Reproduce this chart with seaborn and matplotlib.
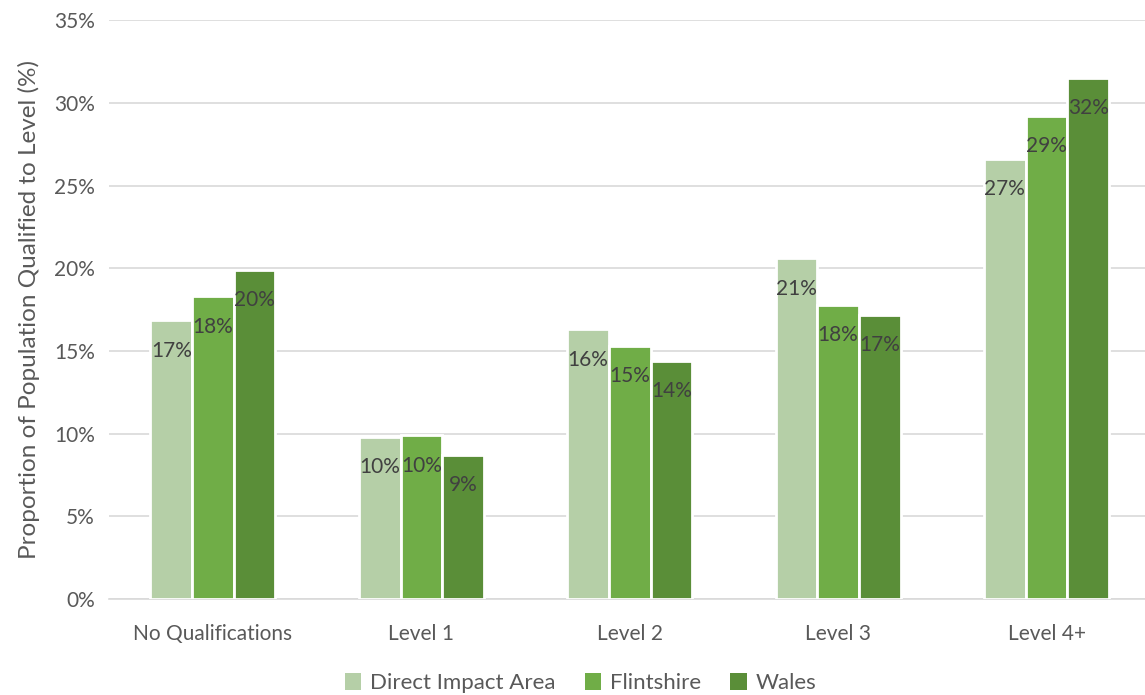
import matplotlib
matplotlib.use("Agg")
import matplotlib.pyplot as plt
import seaborn as sns
import pandas as pd
from matplotlib.patches import Patch

categories = ["No Qualifications", "Level 1", "Level 2", "Level 3", "Level 4+"]
series_names = ["Direct Impact Area", "Flintshire", "Wales"]
dia = [16.85, 9.8, 16.3, 20.6, 26.6]
flintshire = [18.3, 9.9, 15.3, 17.8, 29.2]
wales = [19.9, 8.7, 14.4, 17.2, 31.5]
yticks = [0, 5, 10, 15, 20, 25, 30, 35]
colors = ["#B5CFA7", "#70AD47", "#5A8E38"]

rows = []
for name, vals in zip(series_names, [dia, flintshire, wales]):
    for c, v in zip(categories, vals):
        rows.append({"Category": c, "Series": name, "Value": v})
df = pd.DataFrame(rows)

sns.set_style("white")
plt.rcParams["font.family"] = ["Lato", "DejaVu Sans"]

fig = plt.figure(figsize=(11.45, 6.95), dpi=100)
ax = fig.add_axes([0.095, 0.138, 0.91, 0.833])

sns.barplot(data=df, x="Category", y="Value", hue="Series", order=categories,
            hue_order=series_names, palette=colors, width=0.6, saturation=1,
            edgecolor="white", linewidth=2, ax=ax, legend=False, zorder=3)

for cont in ax.containers:
    labels = [f"{int(b.get_height() + 0.5)}%" for b in cont]
    ax.bar_label(cont, labels=labels, label_type="edge", padding=-29,
                 fontsize=15, color="#404040")

ax.set_ylim(0, 35)
ax.set_xlim(-0.5, 4.5)
ax.set_yticks(yticks)
ax.set_yticklabels([f"{t}%" for t in yticks], fontsize=15, color="#595959")
ax.tick_params(axis="x", labelsize=15, labelcolor="#595959", length=0, pad=18)
ax.tick_params(axis="y", length=0, pad=10)
ax.yaxis.grid(True, color="#D9D9D9", linewidth=1.2, zorder=0)
ax.set_axisbelow(True)
for s in ["top", "right", "left"]:
    ax.spines[s].set_visible(False)
ax.spines["bottom"].set_color("#D9D9D9")
ax.spines["bottom"].set_linewidth(1.2)
ax.set_xlabel("")
ax.set_ylabel("Proportion of Population Qualified to Level (%)", fontsize=17.5,
              color="#595959", labelpad=10)

handles = [Patch(facecolor=c, edgecolor="none") for c in colors]
fig.legend(handles, series_names, loc="center", bbox_to_anchor=(0.507, 0.017),
           ncol=3, frameon=False, fontsize=16, labelcolor="#595959",
           handlelength=0.75, handleheight=0.75, handletextpad=0.4, columnspacing=1.3)

fig.savefig("out.png", dpi=100)
